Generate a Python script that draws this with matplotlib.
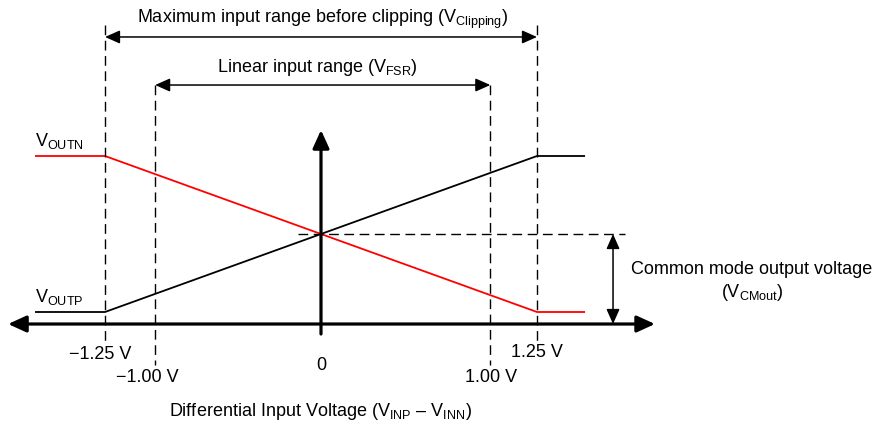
import matplotlib
matplotlib.use("Agg")
import matplotlib.pyplot as plt

plt.rcParams['font.family'] = ['Liberation Sans', 'DejaVu Sans']
plt.rcParams['mathtext.fontset'] = 'custom'
plt.rcParams['mathtext.rm'] = 'Liberation Sans'
plt.rcParams['mathtext.it'] = 'Liberation Sans'

# transfer curve breakpoints: input voltage (V) vs normalised output
v_in = [-1.655, -1.25, 1.25, 1.528]
v_outp = [-1, -1, 1, 1]
v_outn = [1, 1, -1, -1]

clip_limits = [-1.25, 1.25]
fsr_limits = [-0.96, 0.98]
tick_pos = [-1.279, -1.007, 0.0, 0.984, 1.25]
tick_rows = [-1.54, -1.846, -1.692, -1.846, -1.513]
tick_labels = ["\u22121.25 V", "\u22121.00 V", "0", "1.00 V", "1.25 V"]

FS = 13

fig = plt.figure(figsize=(8.82, 4.26), dpi=100)
ax = fig.add_axes([0, 0, 1, 1])
# 1 V = 172.8 px, 1 output unit = 78 px
ax.set_xlim(-321 / 172.8, (882 - 321) / 172.8)
ax.set_ylim((234 - 426) / 78, 234 / 78)
ax.axis('off')

axis_y = -1.154
dash = (0, (7, 4))

# curves
ax.plot(v_in, v_outp, color='black', lw=1.3, solid_capstyle='butt')
ax.plot(v_in, v_outn, color='red', lw=1.3, solid_capstyle='butt')

# dashed guide lines
for x in clip_limits:
    ax.plot([x, x], [2.68, -1.423], color='black', lw=1.0, ls=dash)
for x in fsr_limits:
    ax.plot([x, x], [1.91, -1.68], color='black', lw=1.0, ls=dash)
ax.plot([-0.133, 1.759], [0, 0], color='black', lw=1.0, ls=dash)

head = dict(color='black', shrinkA=0, shrinkB=0, mutation_scale=10)

# axes
ax.annotate('', xy=(1.933, axis_y), xytext=(-1.811, axis_y),
            arrowprops=dict(arrowstyle='<|-|>,head_length=1.1,head_width=0.5', lw=2.3, **head))
ax.annotate('', xy=(0, 1.333), xytext=(0, -1.282),
            arrowprops=dict(arrowstyle='-|>,head_length=1.1,head_width=0.5', lw=2.3, **head))

# range arrows
small = '<|-|>,head_length=0.9,head_width=0.4'
ax.annotate('', xy=(clip_limits[1], 2.526), xytext=(clip_limits[0], 2.526),
            arrowprops=dict(arrowstyle=small, lw=1.1, **head))
ax.annotate('', xy=(fsr_limits[1], 1.91), xytext=(fsr_limits[0], 1.91),
            arrowprops=dict(arrowstyle=small, lw=1.1, **head))
ax.annotate('', xy=(1.69, axis_y), xytext=(1.69, 0),
            arrowprops=dict(arrowstyle=small, lw=1.1, **head))

ax.text(0.01, 2.75, r'Maximum input range before clipping (V$_{\mathrm{Clipping}}$)',
        ha='center', va='center', fontsize=FS)
ax.text(-0.02, 2.14, r'Linear input range (V$_{\mathrm{FSR}}$)',
        ha='center', va='center', fontsize=FS)
ax.text(2.494, -0.46, 'Common mode output voltage', ha='center', va='center', fontsize=FS)
ax.text(2.494, -0.744, r'(V$_{\mathrm{CMout}}$)', ha='center', va='center', fontsize=FS)
ax.text(-1.655, 1.19, r'V$_{\mathrm{OUTN}}$', ha='left', va='center', fontsize=FS)
ax.text(-1.655, -0.81, r'V$_{\mathrm{OUTP}}$', ha='left', va='center', fontsize=FS)

# tick labels
for x, y, lab in zip(tick_pos, tick_rows, tick_labels):
    ax.text(x, y, lab, ha='center', va='center', fontsize=FS)

ax.text(0, -2.27, 'Differential Input Voltage (V$_{\\mathrm{INP}}$ \u2013 V$_{\\mathrm{INN}}$)',
        ha='center', va='center', fontsize=FS)

fig.savefig('out.png', dpi=100)
